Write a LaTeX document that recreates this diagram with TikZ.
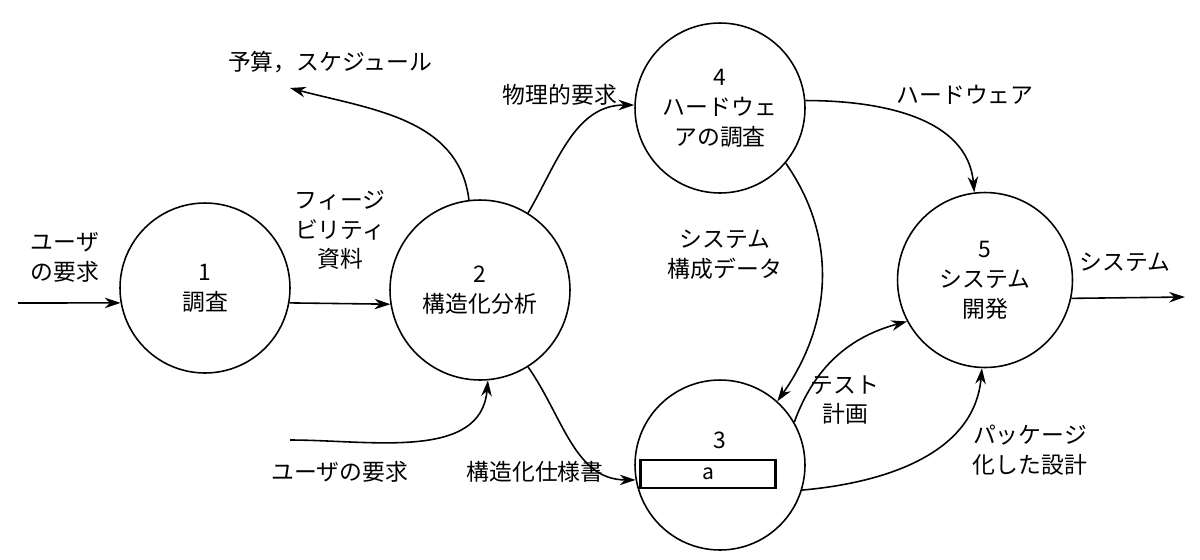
\documentclass[tikz,border=0pt]{standalone}
\usepackage{fontspec}
\setmainfont{Noto Sans CJK JP}
\usetikzlibrary{arrows.meta}
\tikzset{
  proc/.style={circle,draw,line width=0.9pt,inner sep=0pt,align=center,font=\fontsize{13}{17}\selectfont},
  flow/.style={-{Stealth[length=9pt,width=6pt]},line width=0.9pt},
  lbl/.style={align=center,font=\fontsize{13}{17}\selectfont}
}
\begin{document}
\begin{tikzpicture}[x=0.02cm,y=-0.02cm]
\useasboundingbox (0,0) rectangle (1200,559);
% processes
\node[proc,minimum size=3.4cm] (c1) at (205,288) {1\\調査};
\node[proc,minimum size=3.6cm] (c2) at (480,290) {2\\構造化分析};
\node[proc,minimum size=3.4cm] (c4) at (720,108) {4\\ハードウェ\\アの調査};
\node[proc,minimum size=3.4cm] (c3) at (720,465) {};
\node[proc,minimum size=3.5cm] (c5) at (985,280) {5\\システム\\開発};
\node[lbl] (n3) at (720,440) {3};
\node[draw,line width=1.2pt,minimum width=2.7cm,minimum height=0.56cm,font=\fontsize{12}{14}\selectfont] (box) at (708,474) {a};
% free ends
\coordinate (in1) at (18,303);
\coordinate (bud) at (290,88);
\coordinate (in2) at (290,440);
\coordinate (out) at (1185,297);
% flows
\draw[flow] (in1) -- (c1.190);
\draw[flow] (c1.-10) -- (c2.189);
\draw[flow] (c2.97) to[out=97,in=-15] (bud);
\draw[flow] (c2.58) to[out=60,in=180] (c4.178);
\draw[flow] (c4.5) to[out=0,in=95] (c5.97);
\draw[flow] (c4.-40) to[out=-55,in=55] (c3.48);
\draw[flow] (in2) to[out=0,in=-95] (c2.-85);
\draw[flow] (c2.-58) to[out=-55,in=180] (c3.190);
\draw[flow] (c3.30) to[out=70,in=195] (c5.208);
\draw[flow] (c3.-17) to[out=5,in=-95] (c5.-92);
\draw[flow] (c5.-12) -- (out);
% labels
\node[lbl] (l1) at (65,257) {ユーザ\\の要求};
\node[lbl] (l2) at (340,230) {フィージ\\ビリティ\\資料};
\node[lbl] (l3) at (330,62) {予算，スケジュール};
\node[lbl] (l4) at (560,95) {物理的要求};
\node[lbl] (l5) at (965,95) {ハードウェア};
\node[lbl] (l6) at (725,255) {システム\\構成データ};
\node[lbl] (l7) at (340,472) {ユーザの要求};
\node[lbl] (l8) at (535,472) {構造化仕様書};
\node[lbl] (l9) at (845,400) {テスト\\計画};
\node[lbl] (l10) at (1030,450) {パッケージ\\化した設計};
\node[lbl] (l11) at (1125,262) {システム};
\end{tikzpicture}
\end{document}
